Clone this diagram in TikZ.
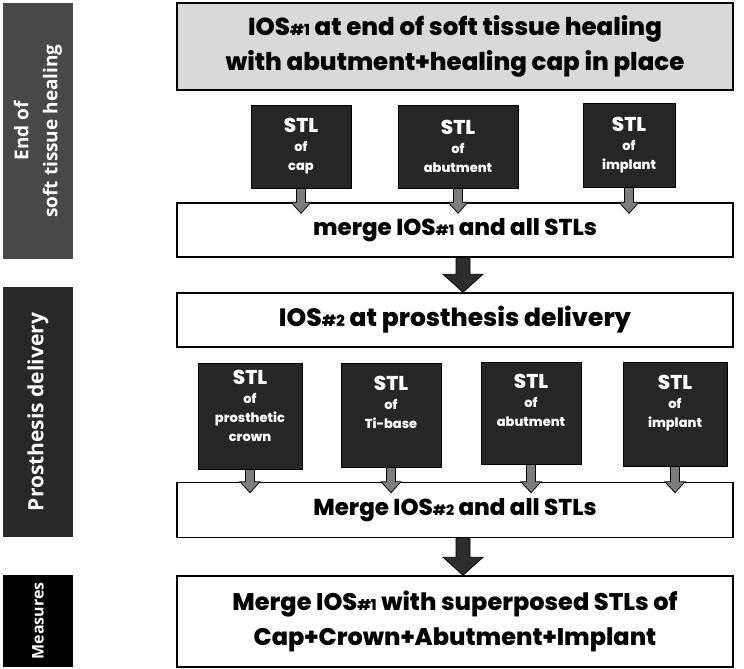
\documentclass[tikz,border=0pt]{standalone}
\usepackage{fontspec}
\setmainfont{Poppins}[BoldFont={Poppins ExtraBold}]
\newfontfamily\barfont{Open Sans}
\usetikzlibrary{calc}

\definecolor{topgray}{RGB}{217,217,217}
\definecolor{barone}{RGB}{72,72,72}
\definecolor{bartwo}{RGB}{40,40,40}
\definecolor{stlfill}{RGB}{38,38,38}
\definecolor{arrowgray}{RGB}{125,125,125}
\definecolor{bigarrow}{RGB}{45,45,45}

\tikzset{every picture/.style={line width=0.75pt}}
\tikzset{
  stage/.style={draw=black, line width=1.5pt, minimum width=556pt, align=center, inner sep=0pt, font=\bfseries\fontsize{24.5}{35}\selectfont},
  stl/.style={draw=black, line width=1pt, fill=stlfill, text=white, align=center, inner sep=0pt, font=\bfseries\fontsize{13}{19}\selectfont},
  phasebar/.style={rotate=90, text=white, align=center, inner sep=0pt, font=\barfont\bfseries\fontsize{19}{29}\selectfont},
}
% small number after IOS
\newcommand{\iosno}[1]{\scalebox{0.62}{\##1}}
\newcommand{\stlword}{{\fontsize{20}{22}\selectfont STL}}
% gray arrow from an STL box down into a merge box
\newcommand{\stlarrow}[2]{%
  \draw[fill=arrowgray, line width=0.75pt] let \p1=(#1.south), \p2=(#2.north) in
    (\x1-4.5pt,\y1) -- (\x1-4.5pt,\y2) -- (\x1-10pt,\y2) -- (\x1,\y2-11pt)
    -- (\x1+10pt,\y2) -- (\x1+4.5pt,\y2) -- (\x1+4.5pt,\y1) -- cycle;}
% dark arrow between two stage boxes
\newcommand{\stagearrow}[2]{%
  \draw[fill=bigarrow, line width=0.75pt] let \p1=($(#1.south)+(8,0)$), \p2=(#2.north) in
    (\x1-7pt,\y1) -- (\x1-7pt,\y2+18pt) -- (\x1-20pt,\y2+18pt) -- (\x1,\y2)
    -- (\x1+20pt,\y2+18pt) -- (\x1+7pt,\y2+18pt) -- (\x1+7pt,\y1) -- cycle;}

\begin{document}
\begin{tikzpicture}[x=1pt,y=-1pt]

\useasboundingbox (0,0) rectangle (744,669);

% phase bars on the left
\node (barheal) [phasebar, fill=barone, minimum width=256pt, minimum height=70pt] at (38,131) {End of\\soft tissue healing};
\node (bardeliv) [phasebar, fill=bartwo, minimum width=250pt, minimum height=70pt, font=\barfont\bfseries\fontsize{21}{24}\selectfont] at (38,412) {Prosthesis delivery};
\node (barmeas) [phasebar, fill=black, minimum width=92pt, minimum height=70pt, font=\barfont\bfseries\fontsize{16}{18}\selectfont] at (38,621) {Measures};

% stage boxes
\node (ios1) [stage, fill=topgray, minimum height=87pt] at (455,46.5) {IOS\iosno{1} at end of soft tissue healing\\with abutment+healing cap in place};
\node (merge1) [stage, fill=white, minimum height=54pt, font=\bfseries\fontsize{23}{26}\selectfont] at (455,230) {merge IOS\iosno{1} and all STLs};
\node (ios2) [stage, fill=white, minimum height=54pt, font=\bfseries\fontsize{25}{28}\selectfont] at (455,320) {IOS\iosno{2} at prosthesis delivery};
\node (merge2) [stage, fill=white, minimum height=55pt, font=\bfseries\fontsize{23}{26}\selectfont] at (455,510) {Merge IOS\iosno{2} and all STLs};
\node (final) [stage, fill=white, minimum height=91pt, font=\bfseries\fontsize{24}{35}\selectfont] at (455,621.5) {Merge IOS\iosno{1} with superposed STLs of\\Cap+Crown+Abutment+Implant};

% STL boxes, first row
\node (capa) [stl, minimum width=100pt, minimum height=83pt] at (301,146.5) {\stlword\\of\\cap};
\node (abuta) [stl, minimum width=120pt, minimum height=83pt] at (458,146.5) {\stlword\\of\\abutment};
\node (impla) [stl, minimum width=92pt, minimum height=84pt] at (629,145) {\stlword\\of\\implant};

% STL boxes, second row
\node (crownb) [stl, minimum width=104pt, minimum height=106pt] at (250,416) {\stlword\\of\\prosthetic\\crown\\[2pt]};
\node (tibaseb) [stl, minimum width=100pt, minimum height=104pt] at (391,415) {\stlword\\of\\Ti-base\\[6pt]};
\node (abutb) [stl, minimum width=100pt, minimum height=102pt] at (531,413) {\stlword\\of\\abutment\\[6pt]};
\node (implb) [stl, minimum width=104pt, minimum height=104pt] at (675,414) {\stlword\\of\\implant\\[6pt]};

% arrows
\stlarrow{capa}{merge1}
\stlarrow{abuta}{merge1}
\stlarrow{impla}{merge1}
\stlarrow{crownb}{merge2}
\stlarrow{tibaseb}{merge2}
\stlarrow{abutb}{merge2}
\stlarrow{implb}{merge2}
\stagearrow{merge1}{ios2}
\stagearrow{merge2}{final}

\end{tikzpicture}
\end{document}
